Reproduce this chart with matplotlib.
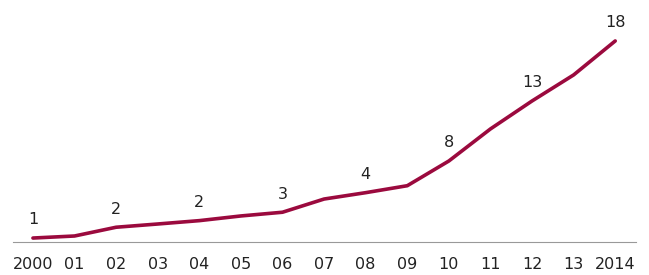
import matplotlib.pyplot as plt

anos = ['2000', '01', '02', '03', '04', '05', '06', '07', '08', '09', '10', '11', '12', '13', '2014']
valores = [1.58, 1.75, 2.48, 2.75, 3.03, 3.42, 3.73, 4.83, 5.36, 5.94, 8.0, 10.67, 13.0, 15.17, 18.0]
rotulos = ['1', '', '2', '', '2', '', '3', '', '4', '', '8', '', '13', '', '18']

cor = '#9b0a3e'

fig = plt.figure(figsize=(6.49, 2.75), dpi=100)
ax = fig.add_axes([0.02, 0.12, 0.96, 0.862])

x = list(range(len(anos)))
ax.plot(x, valores, color=cor, linewidth=2.6, solid_capstyle='round')

for xi, v, r in zip(x, valores, rotulos):
    if r:
        ax.annotate(r, (xi, v), xytext=(0, 13), textcoords='offset points',
                    ha='center', va='center', fontsize=11.5, color='#222222')

ax.set_xlim(-0.48, 14.5)
ax.set_ylim(1.25, 21)
ax.set_xticks(x)
ax.set_xticklabels(anos, fontsize=11.5, color='#222222')
ax.tick_params(axis='x', length=0, pad=11)
ax.set_yticks([])
for s in ['top', 'right', 'left']:
    ax.spines[s].set_visible(False)
ax.spines['bottom'].set_color('#999999')
ax.spines['bottom'].set_linewidth(0.8)

fig.savefig('out.png', dpi=100)
